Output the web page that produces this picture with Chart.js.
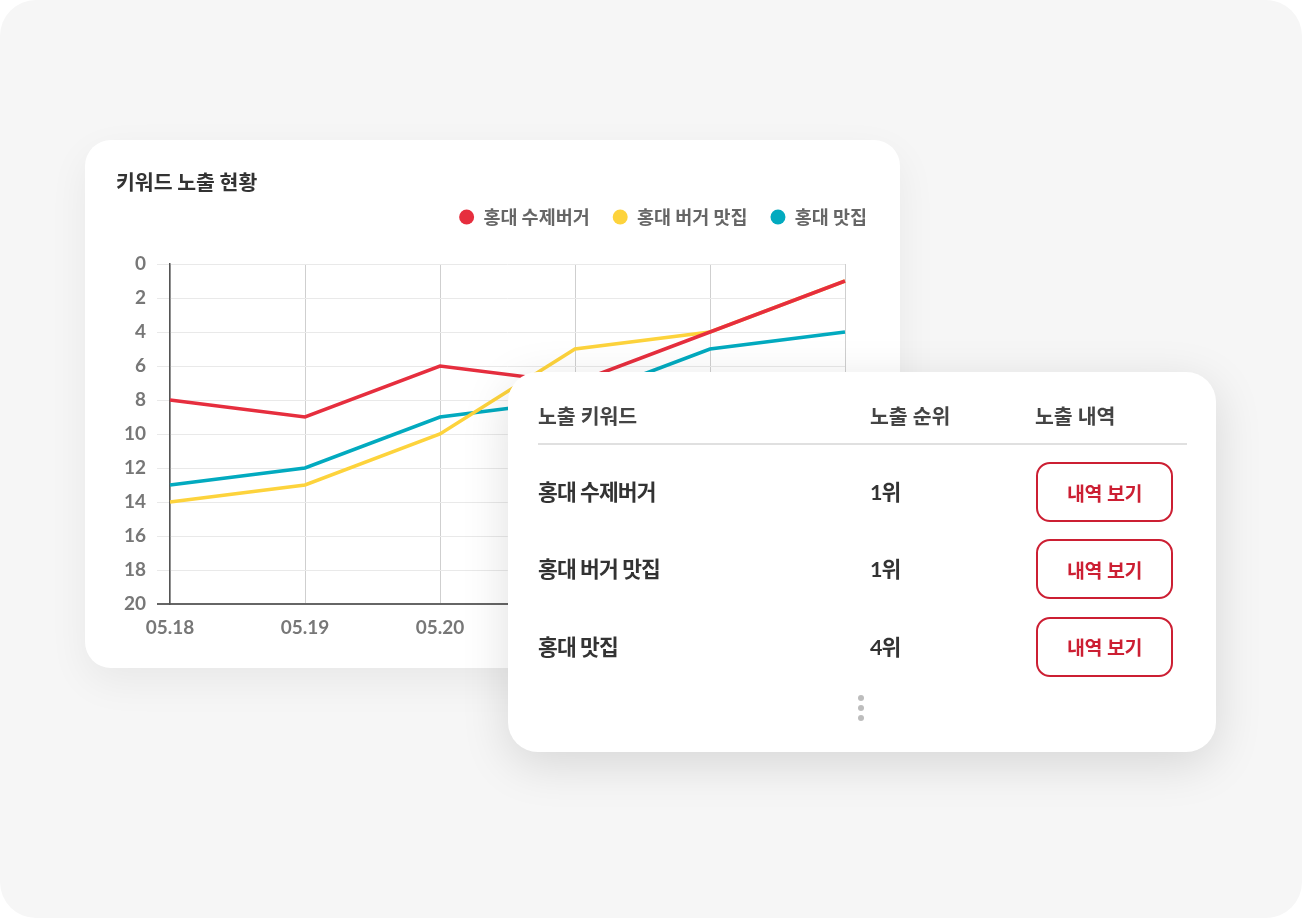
<!DOCTYPE html>
<html lang="ko">
<head>
<meta charset="utf-8">
<script src="https://cdn.jsdelivr.net/npm/chart.js@4.4.1/dist/chart.umd.min.js"></script>
<style>
  html, body { margin: 0; padding: 0; background: #ffffff; }
  body { width: 1302px; height: 918px; position: relative; overflow: hidden; font-family: 'Lato', 'Noto Sans CJK KR', sans-serif; }
  .bg { position: absolute; left: 0; top: 0; width: 1302px; height: 918px; border-radius: 36px; background: #f6f6f6; }
  .card { position: absolute; background: #fff; }
  #chartCard { left: 85px; top: 140px; width: 815px; height: 528px; border-radius: 26px; box-shadow: 0 14px 40px rgba(0,0,0,0.06); }
  #chartBox { position: absolute; left: 0; top: 0; width: 815px; height: 528px; }
  #tableCard { left: 508px; top: 372px; width: 708px; height: 380px; border-radius: 30px; box-shadow: 0 12px 48px rgba(0,0,0,0.13); }
  .hd { position: absolute; font-family: 'Noto Sans CJK KR', sans-serif; font-weight: 700; font-size: 20.5px; color: #444; line-height: 26px; letter-spacing: -0.2px; }
  .divider { position: absolute; left: 30px; top: 71px; width: 649px; height: 2px; background: #e0e0e0; }
  .kw { position: absolute; font-family: 'Lato', 'Noto Sans CJK KR', sans-serif; font-weight: 700; font-size: 21.5px; color: #333; line-height: 28px; letter-spacing: -0.9px; white-space: nowrap; }
  .btn { position: absolute; width: 133px; height: 56px; border: 2px solid #cc1f33; border-radius: 14px; color: #cc1f33; font-family: 'Noto Sans CJK KR', sans-serif; font-weight: 700; font-size: 19.5px; display: flex; align-items: center; justify-content: center; letter-spacing: -0.4px; }
  .dot { position: absolute; width: 6px; height: 6px; border-radius: 3px; background: #bdbdbd; }
</style>
</head>
<body>
<div class="bg"></div>
<div class="card" id="chartCard"><div id="chartBox"><canvas id="c"></canvas></div></div>
<div class="card" id="tableCard"></div>
<script>
// ---- data ----
const chartTitle = '키워드 노출 현황';
const dates = ['05.18', '05.19', '05.20', '05.21', '05.22', '05.23'];
const seriesNames = ['홍대 수제버거', '홍대 버거 맛집', '홍대 맛집'];
const handmadeBurger = [8, 9, 6, 7, 4, 1];
const burgerSpot = [14, 13, 10, 5, 4, 1];
const hongdaeSpot = [13, 12, 9, 8, 5, 4];
const seriesColors = ['#e62e3e', '#fdd33c', '#02aabf'];
const yTicks = [0, 2, 4, 6, 8, 10, 12, 14, 16, 18, 20];

const tableHeaders = ['노출 키워드', '노출 순위', '노출 내역'];
const tableKeywords = ['홍대 수제버거', '홍대 버거 맛집', '홍대 맛집'];
const tableRanks = ['1위', '1위', '4위'];
const buttonLabel = '내역 보기';

// ---- chart ----
const seriesValues = [handmadeBurger, burgerSpot, hongdaeSpot];
const tickFont = { family: "'Lato', sans-serif", size: 19, weight: 'bold' };

new Chart(document.getElementById('c'), {
  type: 'line',
  data: {
    labels: dates,
    datasets: seriesNames.map((name, i) => ({
      label: name,
      data: seriesValues[i],
      borderColor: seriesColors[i],
      backgroundColor: seriesColors[i],
      borderWidth: 3.5,
      pointRadius: 0,
      pointHoverRadius: 0,
      tension: 0,
      fill: false
    }))
  },
  options: {
    responsive: true,
    maintainAspectRatio: false,
    animation: false,
    events: [],
    layout: { padding: { left: 31, right: 10, top: 0, bottom: 0 } },
    plugins: {
      tooltip: { enabled: false },
      title: {
        display: true,
        text: chartTitle,
        align: 'start',
        color: '#333',
        font: { family: "'Noto Sans CJK KR', sans-serif", size: 20.5, weight: 'bold', lineHeight: 0.2 },
        padding: { top: 40.65, bottom: 0 }
      },
      legend: {
        display: true,
        position: 'top',
        align: 'end',
        labels: {
          usePointStyle: true,
          pointStyle: 'circle',
          boxHeight: 10.6,
          pointStyleWidth: 15,
          padding: 23,
          color: '#666',
          font: { family: "'Noto Sans CJK KR', sans-serif", size: 18.5, weight: 'bold' },
          generateLabels: (chart) => Chart.defaults.plugins.legend.labels.generateLabels(chart).map(l => Object.assign(l, { lineWidth: 0 }))
        }
      }
    },
    scales: {
      x: {
        type: 'category',
        position: 'bottom',
        offset: false,
        grid: { color: '#cfcfcf', lineWidth: 1, drawTicks: false },
        border: { display: true, color: '#666', width: 2 },
        ticks: { color: '#777', font: tickFont, padding: 12, maxRotation: 0, autoSkip: false },
        afterFit: (s) => { s.height = 64; }
      },
      xTop: {
        type: 'category',
        position: 'top',
        display: true,
        grid: { display: false },
        border: { display: false },
        ticks: { display: false },
        afterFit: (s) => { s.height = 27.75; }
      },
      y: {
        type: 'linear',
        position: 'left',
        reverse: true,
        min: 0,
        max: 20,
        afterBuildTicks: (s) => { s.ticks = yTicks.map(v => ({ value: v })); },
        grid: {
          color: (c) => (c.tick && c.tick.value === 20 ? '#666' : '#e9e9e9'),
          lineWidth: (c) => (c.tick && c.tick.value === 20 ? 2 : 1),
          tickLength: 13,
          drawTicks: true
        },
        border: { display: true, color: '#555', width: 1.5 },
        ticks: { color: '#777', font: tickFont, padding: 11 },
        afterFit: (s) => { s.width = 54; }
      },
      yRight: {
        type: 'linear',
        position: 'right',
        display: true,
        grid: { display: false },
        border: { display: false },
        ticks: { display: false },
        afterFit: (s) => { s.width = 45; }
      }
    }
  }
});

// ---- table card (HTML) ----
const tc = document.getElementById('tableCard');
const headerX = [30, 362, 527];
tableHeaders.forEach((h, i) => {
  const d = document.createElement('div');
  d.className = 'hd';
  d.textContent = h;
  d.style.left = headerX[i] + 'px';
  d.style.top = (43 - 13) + 'px';
  tc.appendChild(d);
});
const div = document.createElement('div');
div.className = 'divider';
tc.appendChild(div);

const rowCenters = [120, 197, 274.5];
tableKeywords.forEach((kw, i) => {
  const cy = rowCenters[i];
  const k = document.createElement('div');
  k.className = 'kw';
  k.textContent = kw;
  k.style.left = '30px';
  k.style.top = (cy - 14) + 'px';
  tc.appendChild(k);
  const r = document.createElement('div');
  r.className = 'kw';
  r.textContent = tableRanks[i];
  r.style.left = '362px';
  r.style.top = (cy - 14) + 'px';
  tc.appendChild(r);
  const b = document.createElement('div');
  b.className = 'btn';
  b.textContent = buttonLabel;
  b.style.left = '528px';
  b.style.top = (cy - 30) + 'px';
  tc.appendChild(b);
});
[326, 336, 346].forEach(y => {
  const d = document.createElement('div');
  d.className = 'dot';
  d.style.left = (353 - 3) + 'px';
  d.style.top = (y - 3) + 'px';
  tc.appendChild(d);
});
</script>
</body>
</html>
